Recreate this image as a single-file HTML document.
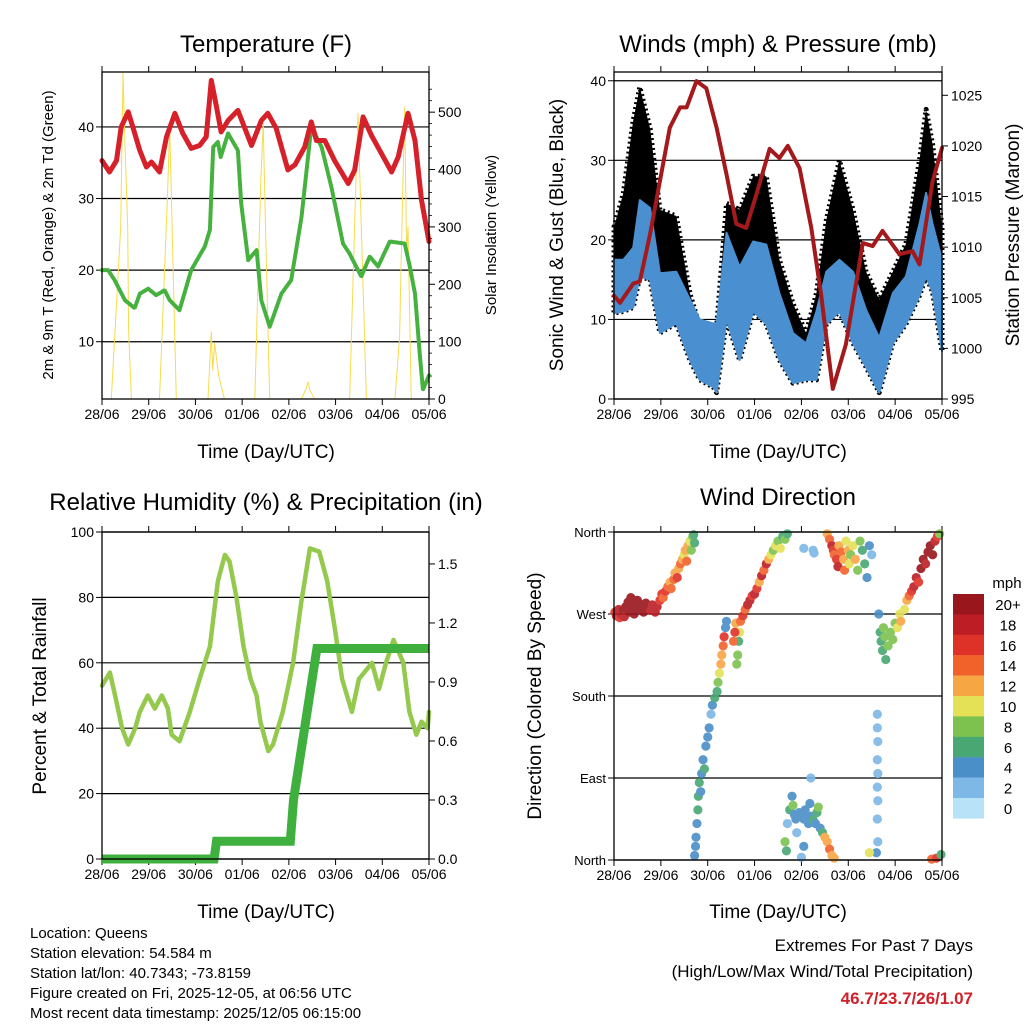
<!DOCTYPE html>
<html><head><meta charset="utf-8"><style>
html,body{margin:0;padding:0;background:#fff}
svg{display:block;font-family:"Liberation Sans",Arial,sans-serif}
</style></head><body>
<svg id="c" width="1024" height="1024" viewBox="0 0 1024 1024">
<rect width="1024" height="1024" fill="#fff"/>
<text x="266" y="52" font-size="24" text-anchor="middle">Temperature (F)</text>
<text x="778" y="52" font-size="24" text-anchor="middle">Winds (mph) &amp; Pressure (mb)</text>
<text x="266" y="510" font-size="24" text-anchor="middle">Relative Humidity (%) &amp; Precipitation (in)</text>
<text x="778" y="505" font-size="24" text-anchor="middle">Wind Direction</text>
<text x="266" y="458" font-size="19" text-anchor="middle">Time (Day/UTC)</text>
<text x="778" y="458" font-size="19" text-anchor="middle">Time (Day/UTC)</text>
<text x="266" y="918" font-size="19" text-anchor="middle">Time (Day/UTC)</text>
<text x="778" y="918" font-size="19" text-anchor="middle">Time (Day/UTC)</text>
<text transform="translate(53,235) rotate(-90)" font-size="15" text-anchor="middle">2m &amp; 9m T (Red, Orange) &amp; 2m Td (Green)</text>
<text transform="translate(496,235) rotate(-90)" font-size="15" text-anchor="middle">Solar Insolation (Yellow)</text>
<text transform="translate(563,235) rotate(-90)" font-size="19" text-anchor="middle">Sonic Wind &amp; Gust (Blue, Black)</text>
<text transform="translate(1019,235) rotate(-90)" font-size="19" text-anchor="middle">Station Pressure (Maroon)</text>
<text transform="translate(46,696) rotate(-90)" font-size="19" text-anchor="middle">Percent &amp; Total Rainfall</text>
<text transform="translate(541,696) rotate(-90)" font-size="19" text-anchor="middle">Direction (Colored By Speed)</text>
<g font-size="15">
<text x="30" y="938">Location: Queens</text>
<text x="30" y="958">Station elevation: 54.584 m</text>
<text x="30" y="978">Station lat/lon: 40.7343; -73.8159</text>
<text x="30" y="998">Figure created on Fri, 2025-12-05, at 06:56 UTC</text>
<text x="30" y="1018">Most recent data timestamp: 2025/12/05 06:15:00</text>
</g>
<text x="973" y="951" font-size="17" text-anchor="end">Extremes For Past 7 Days</text>
<text x="973" y="977" font-size="17" text-anchor="end">(High/Low/Max Wind/Total Precipitation)</text>
<text x="973" y="1004" font-size="17" font-weight="bold" fill="#d0202a" text-anchor="end">46.7/23.7/26/1.07</text>
<text x="1007" y="588" font-size="15" text-anchor="middle">mph</text>
</svg>
<script>
// ---------- data ----------
const dayLabels=['28/06','29/06','30/06','01/06','02/06','03/06','04/06','05/06'];
const tTime=[0,0.16,0.31,0.41,0.56,0.66,0.81,0.95,1.06,1.23,1.38,1.56,1.73,1.91,2.09,2.23,2.34,2.45,2.55,2.7,2.91,3.2,3.41,3.55,3.73,3.98,4.13,4.34,4.48,4.59,4.77,4.98,5.27,5.41,5.59,5.77,5.98,6.2,6.34,6.55,6.7,6.84,7];
const tVal=[35.3,33.7,35.3,40,42.1,40,36.7,34.4,35.1,33.7,38.6,41.9,39.1,37,37.4,38.6,46.5,42.8,39.3,40.9,42.3,37.4,40.9,41.9,39.8,34,34.7,37.2,40.7,38.1,38.1,35.3,32.1,34,41.4,38.8,36.3,33.7,35.8,41.9,38.1,29.8,24];
const tdTime=[0,0.13,0.27,0.49,0.7,0.81,0.99,1.16,1.34,1.45,1.66,1.91,2.2,2.31,2.38,2.48,2.54,2.7,2.91,2.98,3.13,3.31,3.41,3.59,3.84,4.05,4.27,4.48,4.7,4.91,5.16,5.3,5.55,5.73,5.91,6.16,6.48,6.59,6.7,6.8,6.87,7];
const tdVal=[20,20,18.6,15.8,14.7,16.7,17.4,16.5,17.2,15.8,14.4,20,23.3,25.6,37.2,37.9,35.8,39.1,36.7,29.3,21.4,22.8,15.8,12.1,16.7,18.6,27.4,40,37.2,31.6,23.7,22.3,19.1,21.9,20.5,24,23.7,20.5,16.7,8.4,3.3,5.3];
const solTime=[0,0.2,0.4,0.45,0.5,0.55,0.57,0.63,1.23,1.4,1.45,1.5,1.59,2.27,2.34,2.37,2.41,2.5,2.59,2.62,3.27,3.4,3.45,3.5,3.59,4.27,4.38,4.41,4.45,4.55,5.3,5.45,5.48,5.55,5.66,6.27,6.37,6.42,6.48,6.52,6.55,6.62,7];
const solVal=[0,0,300,568,420,300,120,0,0,350,474,300,0,0,117,50,97,40,10,0,0,380,481,300,0,0,20,30,15,0,0,420,498,300,0,0,108,300,509,250,300,0,0];
const windTime=[0,0.2,0.41,0.55,0.77,0.98,1.33,1.62,1.83,2.12,2.19,2.4,2.68,2.97,3.25,3.53,3.82,4.1,4.32,4.53,4.81,5.1,5.38,5.66,5.95,6.23,6.52,6.66,6.8,7];
const windLo=[10.8,11,11.5,15.4,15,8.3,9.5,4.9,2.4,1.5,0.8,10,4.9,11,9.4,4.9,2,2.4,2.4,9.4,11,7,4,0.8,7,9.4,13,15.4,13.4,6];
const windHi=[17.5,17.5,19,25,24,15.8,16,12.5,10,9.5,9.4,20.9,16.6,19.8,19.4,13.3,8.3,7,11,16,17.5,16,11.2,7.7,13.3,15.4,22,25.9,22,17.5];
const gustHi=[21.6,25.9,35,39.2,34,23.8,23,13.3,9.1,8.2,9,24.6,23.8,28,28,17.5,12,8.3,13.3,22.5,30,23.8,16,12.5,16,19.5,30,36.4,32,21.6];
const presTime=[0,0.13,0.41,0.55,0.77,1.19,1.41,1.55,1.76,1.97,2.19,2.4,2.61,2.82,3.04,3.32,3.53,3.71,3.96,4.21,4.42,4.67,4.95,5.31,5.52,5.73,6.09,6.37,6.52,6.8,7];
const presVal=[1005.2,1004.5,1006.4,1006.6,1011.3,1021.8,1023.8,1023.8,1026.4,1025.7,1021.8,1017.2,1012.3,1011.9,1015.2,1019.7,1018.8,1020,1017.8,1011.9,1005.3,996,1000.4,1010.4,1010.1,1011.6,1009.3,1009.6,1008.3,1016.5,1019.8];
const rhTime=[0,0.17,0.28,0.43,0.56,0.71,0.81,0.98,1.13,1.28,1.41,1.49,1.66,1.88,2.09,2.31,2.48,2.63,2.73,2.88,3.03,3.18,3.31,3.39,3.56,3.66,3.87,4.09,4.26,4.45,4.65,4.82,4.99,5.14,5.35,5.5,5.78,5.93,6.08,6.24,6.45,6.58,6.73,6.84,6.97,7];
const rhVal=[53,57,50,40,35,40,45,50,46,50,46,38,36,45,55,65,85,93,91,80,65,55,50,42,33,35,45,60,78,95,94,85,70,55,45,55,60,52,60,67,60,45,38,42,40,45];
const prTime=[0,2.4,2.45,4.03,4.1,4.6,7];
const prVal=[0,0,0.09,0.09,0.3,1.07,1.07];
const dirDay=[0.02,0.05,0.1,0.12,0.15,0.2,0.22,0.25,0.3,0.33,0.36,0.4,0.43,0.47,0.5,0.55,0.6,0.63,0.68,0.72,0.78,0.82,0.88,0.92,
0.98,1.02,1.05,1.1,1.15,1.2,1.22,1.28,1.3,1.35,1.38,1.42,1.46,1.5,1.52,1.55,1.58,1.62,1.65,1.68,1.7,1.72,
1.72,1.74,1.75,1.77,1.79,1.8,1.82,1.85,1.87,1.9,1.93,1.96,2.0,2.03,2.07,2.1,2.15,2.2,2.22,2.25,2.28,2.3,2.33,2.35,2.38,2.4,2.62,2.64,2.66,2.68,2.55,2.58,2.6,2.7,2.75,2.8,2.85,2.9,2.95,3.0,3.05,3.1,3.15,3.2,3.25,3.3,3.35,3.4,3.45,3.5,3.55,3.6,3.65,3.7,
4.05,4.25,4.27,
4.55,4.6,4.65,4.68,4.7,4.75,4.78,4.8,4.85,4.9,4.92,4.95,5.0,5.02,5.05,5.1,5.15,5.2,5.25,5.3,5.35,5.4,5.45,5.5,
3.65,3.68,3.7,3.75,3.8,3.82,3.85,3.88,3.9,3.95,4.0,4.05,4.08,4.1,4.15,4.18,4.2,4.25,4.3,4.33,4.36,4.4,4.45,4.5,4.55,4.6,4.65,4.7,4.2,4.05,4.0,
5.62,5.62,5.63,5.62,5.63,5.62,5.63,5.62,5.63,5.6,5.45,
5.65,5.68,5.7,5.73,5.75,5.78,5.8,5.85,5.9,5.95,6.0,6.05,6.1,6.12,
6.2,6.25,6.3,6.35,6.4,6.45,6.5,6.55,6.6,6.65,6.7,6.75,6.8,6.85,6.9,6.95,6.78,6.88,6.98];
const dirDeg=[272,268,275,266,270,274,267,278,283,272,288,276,270,280,285,276,280,272,282,276,274,280,272,278,
285,292,288,295,300,305,298,308,315,310,320,325,330,335,340,328,345,350,340,355,357,348,
5,15,25,40,55,70,85,75,95,110,100,125,135,145,160,170,178,185,195,205,215,225,235,245,255,262,215,225,240,250,240,250,260,262,268,275,280,285,290,292,298,305,312,318,325,330,335,340,345,350,342,355,352,358,
342,340,337,
358,352,345,340,335,330,322,345,338,330,318,350,340,325,335,345,330,318,350,340,325,310,345,335,
20,10,40,55,70,60,50,45,30,52,48,45,55,50,40,62,48,44,40,52,58,35,30,25,20,12,5,2,90,15,3,
160,145,130,110,95,80,65,45,20,8,8,
270,250,240,230,255,245,220,235,250,242,260,255,270,262,
275,285,290,295,300,310,305,320,330,325,338,345,335,350,355,358,1,2,6];
const dirSpd=[16,18,18,16,18,20,18,20,20,20,20,20,20,20,20,20,20,20,20,20,18,18,18,18,
16,16,14,16,14,12,14,14,12,16,12,14,12,10,12,14,12,10,8,8,6,6,
4,4,4,4,6,6,6,4,4,4,6,4,4,4,2,4,6,6,8,10,12,12,14,16,4,4,8,8,6,10,14,16,12,14,16,14,18,18,16,18,16,12,18,14,18,12,10,8,10,8,10,6,8,6,
2,2,2,
12,14,18,16,14,16,18,12,14,12,14,10,12,10,8,10,12,8,8,6,6,4,4,2,
8,6,2,6,4,8,4,4,2,4,4,4,4,4,4,4,4,6,4,6,8,4,6,12,12,14,12,12,2,4,2,
2,2,2,2,2,2,2,2,2,4,10,
4,6,6,6,8,8,6,8,8,8,8,10,10,12,
10,12,14,16,18,18,16,20,20,18,20,20,20,18,16,8,14,16,6];
const legendLabels=['20+','18','16','14','12','10','8','6','4','2','0'];
const speedColors=['#b8e2f8','#7db8e6','#4a8fc8','#48a772','#7dc24f','#e5e157','#f7a644','#f1622b','#de3128','#bd1d25','#98161c'];

// ---------- helpers ----------
const NS='http://www.w3.org/2000/svg';
const svg=document.getElementById('c');
function el(tag,attrs,parent){const e=document.createElementNS(NS,tag);for(const k in attrs)e.setAttribute(k,attrs[k]);(parent||svg).appendChild(e);return e;}
function panel(p){
  p.sx=d=>p.x0+d/7*(p.x1-p.x0);
  p.syL=v=>p.y1-(v-p.lmin)/(p.lmax-p.lmin)*(p.y1-p.y0);
  p.syR=v=>p.y1-(v-p.rmin)/(p.rmax-p.rmin)*(p.y1-p.y0);
  const g=el('g',{});
  
  
  p.lt.forEach((v,i)=>{
    const y=p.syL(v);
    if(p.grid){const l=el('line',{x1:p.x0,x2:p.x1,y1:y,y2:y,stroke:'#000','stroke-width':1.2},g);
      
      }
    const tk=el('line',{x1:p.x0-6,x2:p.x0,y1:y,y2:y,stroke:'#000','stroke-width':1},g);
    
    
    const t=el('text',{x:p.x0-8,y:y+5,'font-size':p.lfs||14,'text-anchor':'end'},g);
    
    
    t.textContent=p.ltl[i];
  });
  (p.rt||[]).forEach((v,i)=>{
    const y=p.syR(v);
    const tk=el('line',{x1:p.x1,x2:p.x1+6,y1:y,y2:y,stroke:'#000','stroke-width':1},g);
    
    
    const t=el('text',{x:p.x1+9,y:y+5,'font-size':14},g);
    
    
    t.textContent=p.rtl[i];
  });
  (p.rminor||[]).forEach(v=>{const y=p.syR(v);
    const tk=el('line',{x1:p.x1,x2:p.x1+3,y1:y,y2:y,stroke:'#000','stroke-width':0.8},g);
    
    });
  dayLabels.forEach((lab,i)=>{
    const x=p.sx(i);
    const tk=el('line',{x1:x,x2:x,y1:p.y1,y2:p.y1+6,stroke:'#000','stroke-width':1},g);
    
    
    const tk2=el('line',{x1:x,x2:x,y1:p.y0-6,y2:p.y0,stroke:'#000','stroke-width':1},g);
    
    
    const t=el('text',{x:x,y:p.y1+20,'font-size':14,'text-anchor':'middle'},g);
    
    
    t.textContent=lab;
  });
  return g;
}
function frame(p){
  const r=el('rect',{x:p.x0,y:p.y0,width:p.x1-p.x0,height:p.y1-p.y0,fill:'none',stroke:'#000','stroke-width':1.3});
  
  
}
function line(p,xs,ys,sy,attrs,name){
  let d='';
  xs.forEach((x,i)=>{d+=(i?'L':'M')+p.sx(x).toFixed(1)+','+sy(ys[i]).toFixed(1);});
  const e=el('path',Object.assign({d:d,fill:'none','stroke-linejoin':'round','stroke-linecap':'round'},attrs));
  
  
  return e;
}
function area(p,xs,lo,hi,sy,attrs,name){
  let d='';
  xs.forEach((x,i)=>{d+=(i?'L':'M')+p.sx(x).toFixed(1)+','+sy(hi[i]).toFixed(1);});
  for(let i=xs.length-1;i>=0;i--){d+='L'+p.sx(xs[i]).toFixed(1)+','+sy(lo[i]).toFixed(1);}
  d+='Z';
  const e=el('path',Object.assign({d:d,'stroke-linejoin':'round'},attrs));
  
  
  return e;
}

// ---------- temperature ----------
const P1={name:'temperature',x0:102,x1:429,y0:72,y1:399,lmin:2,lmax:47.67,rmin:0,rmax:570,grid:true,
  lt:[10,20,30,40],ltl:['10','20','30','40'],rt:[0,100,200,300,400,500],rtl:['0','100','200','300','400','500'],
  rminor:[20,40,60,80,120,140,160,180,220,240,260,280,320,340,360,380,420,440,460,480,520,540]};
panel(P1);
line(P1,solTime,solVal,P1.syR,{stroke:'#f6dc4c','stroke-width':1},'solar-insolation-line');
line(P1,tdTime,tdVal,P1.syL,{stroke:'#45b13f','stroke-width':4,'stroke-dasharray':'3 1.5'},'dewpoint-line');
line(P1,tTime,tVal,P1.syL,{stroke:'#d6202a','stroke-width':5},'temperature-line');
frame(P1);

// ---------- winds ----------
const P2={name:'winds',x0:614,x1:942,y0:72,y1:399,lmin:0,lmax:41.1,rmin:995,rmax:1027.3,grid:true,
  lt:[0,10,20,30,40],ltl:['0','10','20','30','40'],rt:[995,1000,1005,1010,1015,1020,1025],rtl:['995','1000','1005','1010','1015','1020','1025']};
panel(P2);
area(P2,windTime,windLo,gustHi,P2.syL,{fill:'#000',stroke:'#000','stroke-width':5,'stroke-dasharray':'2 3'},'gust-area');
area(P2,windTime,windLo,windHi,P2.syL,{fill:'#4a90d0',stroke:'#4a90d0','stroke-width':2},'wind-area');
line(P2,presTime,presVal,P2.syR,{stroke:'#a3191c','stroke-width':4},'pressure-line');
frame(P2);

// ---------- humidity ----------
const P3={name:'humidity',x0:102,x1:429,y0:532,y1:859,lmin:0,lmax:100,rmin:0,rmax:1.6624,grid:true,
  lt:[0,20,40,60,80,100],ltl:['0','20','40','60','80','100'],rt:[0,0.3,0.6,0.9,1.2,1.5],rtl:['0.0','0.3','0.6','0.9','1.2','1.5']};
panel(P3);
line(P3,rhTime,rhVal,P3.syL,{stroke:'#94c94e','stroke-width':4.5},'humidity-line');
line(P3,prTime,prVal,P3.syR,{stroke:'#3fb03d','stroke-width':9,'stroke-linejoin':'miter','stroke-linecap':'butt'},'precipitation-line');
frame(P3);

// ---------- wind direction ----------
const P4={name:'direction',x0:614,x1:942,y0:532,y1:860,lmin:0,lmax:360,grid:true,
  lt:[0,90,180,270,360],ltl:['North','East','South','West','North'],lfs:13};
panel(P4);
const dg=el('g',{opacity:0.9});


dirDay.forEach((d,i)=>{
  const b=Math.min(10,Math.floor(dirSpd[i]/2));
  const c=el('circle',{cx:P4.sx(d),cy:P4.syL(dirDeg[i]),r:4.6,fill:speedColors[b]},dg);
  
  
});
frame(P4);

// ---------- legend ----------
const lg=el('g',{});


legendLabels.forEach((lab,i)=>{
  const y=594+i*20.4;
  const r=el('rect',{x:953,y:y,width:31,height:20.6,fill:speedColors[10-i]},lg);
  
  
  const t=el('text',{x:1008,y:y+16,'font-size':15,'text-anchor':'middle'},lg);
  
  
  t.textContent=lab;
});
</script>
</body></html>
